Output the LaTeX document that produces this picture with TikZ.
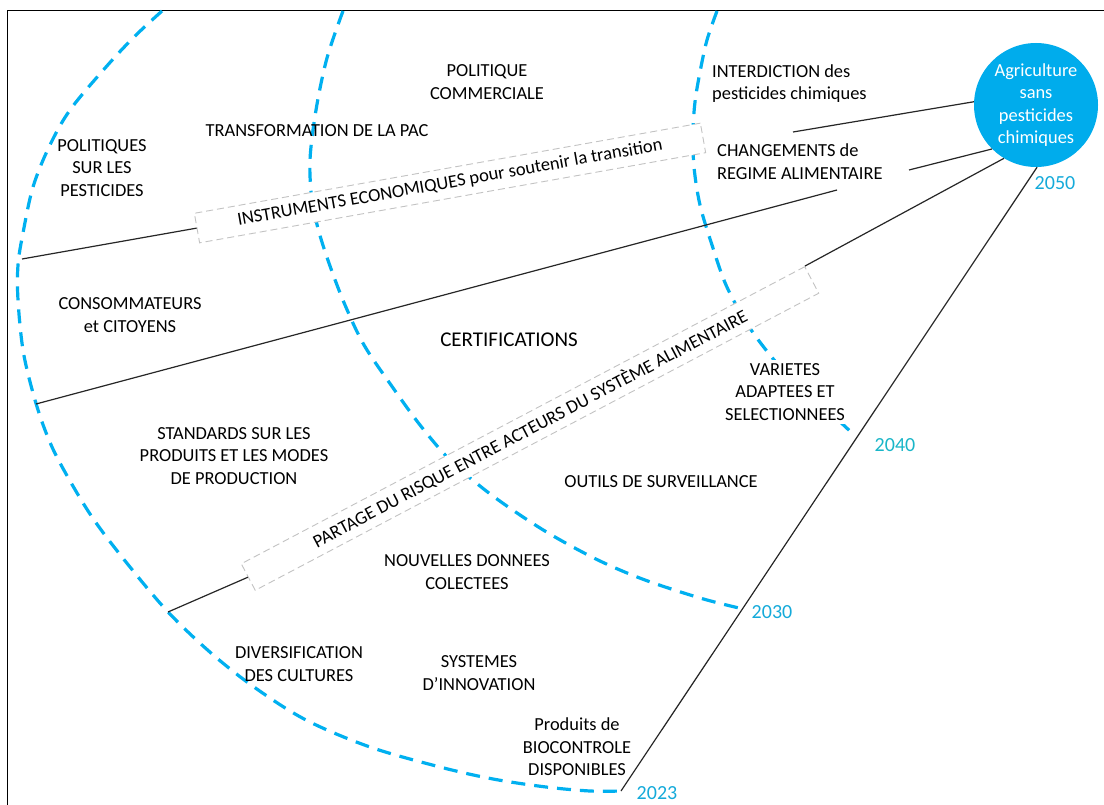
\documentclass[tikz,border=0pt]{standalone}
\usepackage{fontspec}
\setmainfont{Carlito}
\definecolor{arcblue}{RGB}{0,176,240}
\definecolor{circblue}{RGB}{0,172,236}
\definecolor{yearblue}{RGB}{20,170,218}
\definecolor{yearteal}{RGB}{25,182,200}
\definecolor{boxgray}{RGB}{195,195,195}
\begin{document}
\begin{tikzpicture}[x=1pt,y=-1pt,
  arcline/.style={draw=arcblue, line width=3.2pt, dash pattern=on 14pt off 9pt},
  conn/.style={draw=black!85, line width=1.2pt},
  lbl/.style={align=center, font=\fontsize{18.4}{22.5}\selectfont, inner sep=1pt},
  lbll/.style={align=left, anchor=west, font=\fontsize{18.4}{22.5}\selectfont, inner sep=0pt},
  band/.style={draw=boxgray, line width=0.9pt, dash pattern=on 7pt off 4pt, fill=white,
    minimum height=30pt, inner sep=0pt, font=\fontsize{18.5}{22}\selectfont},
  year/.style={font=\fontsize{20}{24}\selectfont, text=yearblue, inner sep=0pt}]
\useasboundingbox (0,0) rectangle (1104,805);
\fill[white] (0,0) rectangle (1104,805);
% frame
\draw[line width=1.5pt] (7.5,810) -- (7.5,10.5) -- (1110,10.5);
% dashed arcs
\draw[arcline] plot[smooth, tension=0.55] coordinates {(162,11) (134,37) (106,67) (70,110) (49,147) (33,187) (23,233) (18,265) (18,300) (23,350) (33,393) (45,430) (60,463) (92,517) (130,567) (169,613) (211,653) (254,687) (306,720) (370,747) (440,767) (493,779) (546,787) (590,791) (621,791)};
\draw[arcline] plot[smooth, tension=0.55] coordinates {(343,11) (327,58) (316,110) (310,160) (312,200) (319,232) (330,266) (345,305) (364,345) (391,385) (420,425) (450,460) (485,490) (520,515) (555,537) (600,561) (645,580) (700,598) (739,608)};
\draw[arcline] plot[smooth, tension=0.55] coordinates {(717,11) (707,40) (700,72) (695,102) (693,132) (694,167) (700,205) (712,245) (726,285) (746,322) (766,350) (790,378) (815,401) (838,420) (854,435)};
% goal circle
\node[circle, fill=circblue, minimum size=124pt, inner sep=0pt, text=white, align=center,
  font=\fontsize{18.4}{22.6}\selectfont] (circ) at (1036,105) {Agriculture\\sans\\pesticides\\chimiques};
% timeline
\coordinate (t2023) at (621,791);
\draw[conn] (t2023) -- (circ.271);
% bands
\node[band, minimum width=514pt, rotate=10.1] (b1) at (450,183) {INSTRUMENTS ECONOMIQUES pour soutenir la transition};
\node[band, minimum width=637pt, rotate=27.8] (b2) at (530,428.5) {PARTAGE DU RISQUE ENTRE ACTEURS DU SYSTÈME ALIMENTAIRE};
% connectors
\coordinate (a1) at (22,259);
\coordinate (c1) at (793,132);
\draw[conn] (a1) -- (b1.west);
\draw[conn] (c1) -- (circ.177);
\coordinate (a2) at (36,404);
\coordinate (c2a) at (837,190);
\coordinate (c2b) at (909,170);
\draw[conn] (a2) -- (c2a);
\draw[conn] (c2b) -- (circ.225);
\coordinate (a3) at (168,612);
\draw[conn] (a3) -- (b2.west);
\draw[conn] (b2.north east) -- (circ.239);
% labels
\node[lbl] (polcom) at (487,82) {POLITIQUE\\COMMERCIALE};
\node[lbl] (pac) at (317,131) {TRANSFORMATION DE LA PAC};
\node[lbl] (polpest) at (102,168) {POLITIQUES\\SUR LES\\PESTICIDES};
\node[lbl] (conso) at (130,315) {CONSOMMATEURS\\et CITOYENS};
\node[lbl, font=\fontsize{21}{25}\selectfont] (certif) at (509,340) {CERTIFICATIONS};
\node[lbl, fill=white, inner sep=3pt] (variet) at (785,392) {VARIETES\\ADAPTEES ET\\SELECTIONNEES};
\node[lbl] (standards) at (234,456) {STANDARDS SUR LES\\PRODUITS ET LES MODES\\DE PRODUCTION};
\node[lbl] (outils) at (661,482) {OUTILS DE SURVEILLANCE};
\node[lbl] (donnees) at (467,572) {NOUVELLES DONNEES\\COLECTEES};
\node[lbl] (divers) at (299,664) {DIVERSIFICATION\\DES CULTURES};
\node[lbl] (innov) at (479,673) {SYSTEMES\\D’INNOVATION};
\node[lbl] (bioc) at (577,747) {Produits de\\BIOCONTROLE\\DISPONIBLES};
\node[lbll] (interd) at (712,83.5) {INTERDICTION des\\pesticides chimiques};
\node[lbll] (regime) at (717,161.5) {CHANGEMENTS de\\REGIME ALIMENTAIRE};
% years
\node[year] (y2050) at (1055,183) {2050};
\node[year, text=yearteal] (y2040) at (895,445) {2040};
\node[year] (y2030) at (772,612) {2030};
\node[year] (y2023) at (657,793) {2023};
\end{tikzpicture}
\end{document}
